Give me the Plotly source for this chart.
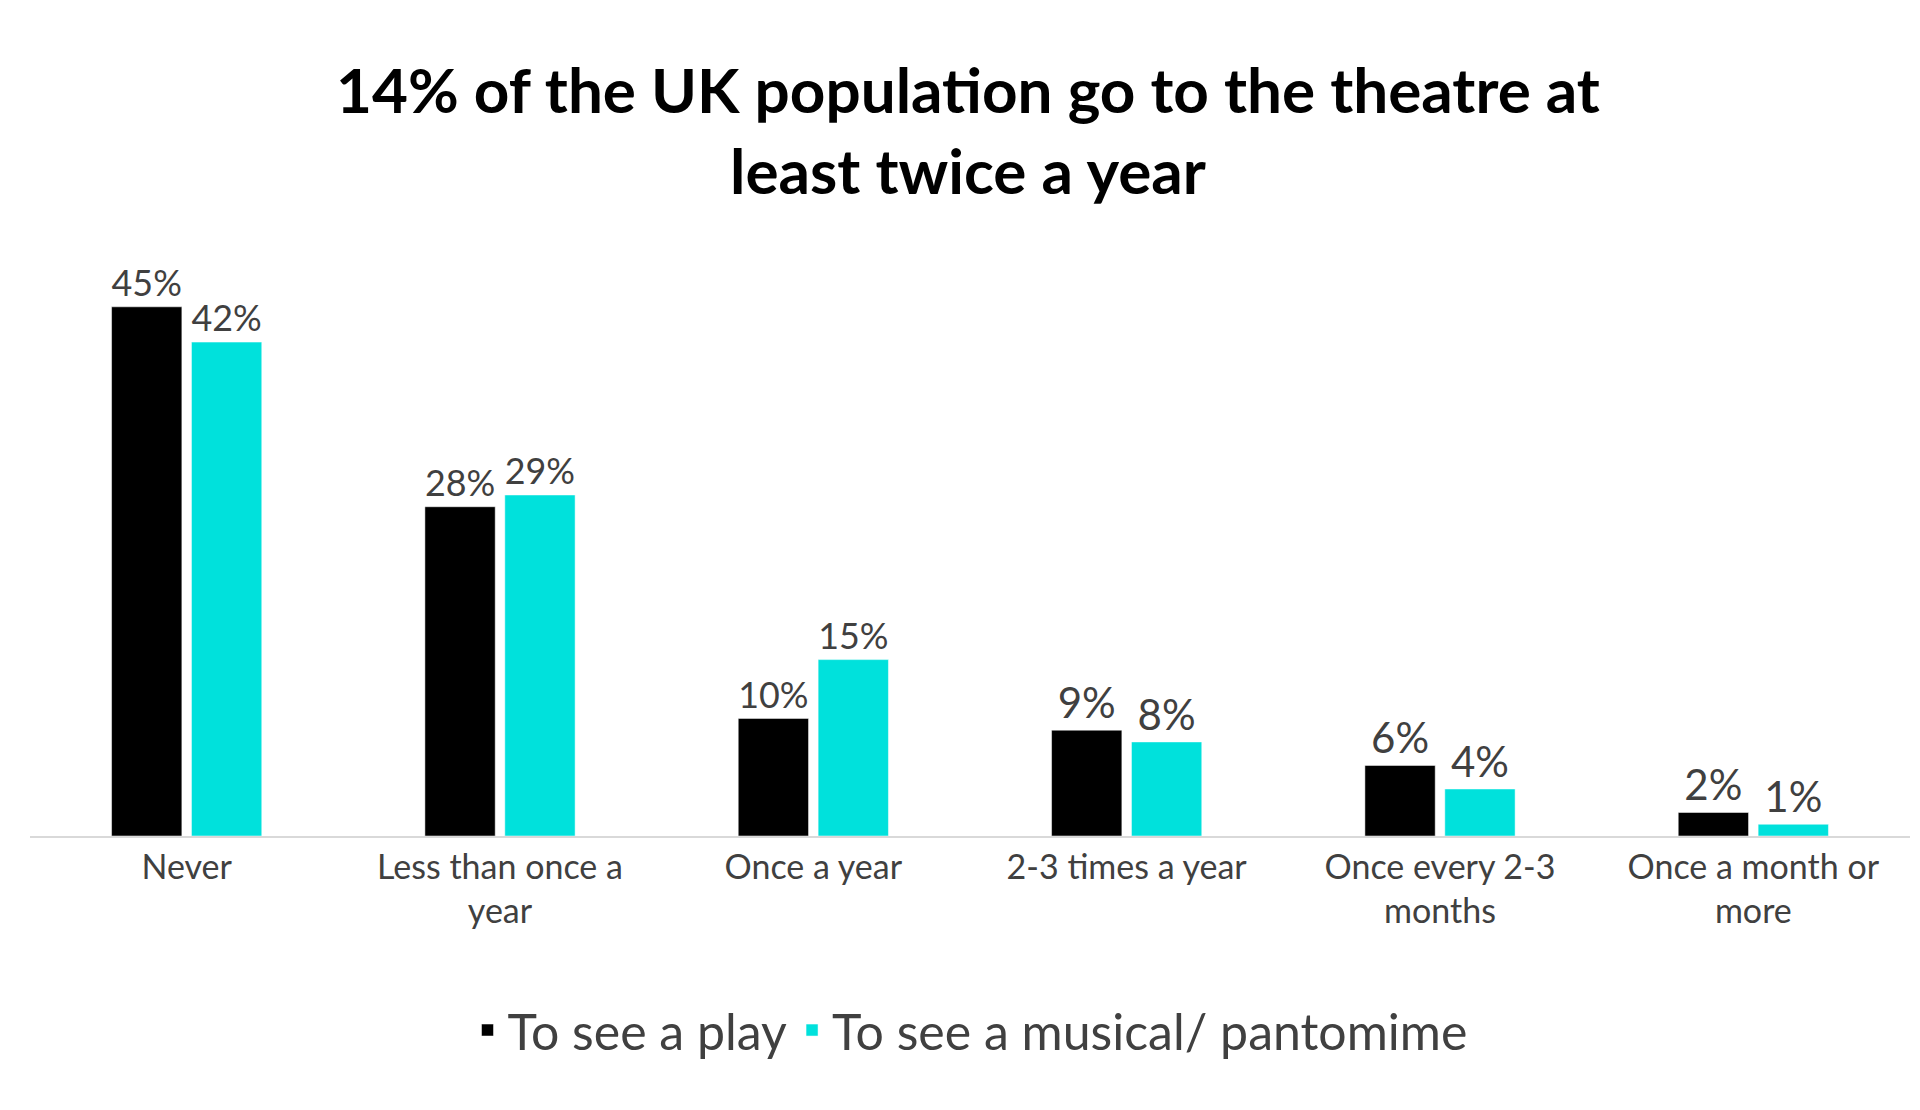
import plotly.graph_objects as go

categories = ["Never", "Less than once a<br>year", "Once a year", "2-3 times a year",
              "Once every 2-3<br>months", "Once a month or<br>more"]
play = [45, 28, 10, 9, 6, 2]
musical = [42, 29, 15, 8, 4, 1]

TEXT = "#404040"
FONT = "Lato, Arial, sans-serif"

fig = go.Figure()
fig.add_trace(go.Bar(
    name="To see a play", x=categories, y=play, marker_color="#000000",
    text=[f"{v}%" for v in play], textposition="outside", cliponaxis=False,
    textfont={"size": 42, "color": TEXT},
))
fig.add_trace(go.Bar(
    name="To see a musical/ pantomime", x=categories, y=musical, marker_color="#00E1DC",
    text=[f"{v}%" for v in musical], textposition="outside", cliponaxis=False,
    textfont={"size": 42, "color": TEXT},
))

fig.update_layout(
    width=1920, height=1110,
    template="plotly_white",
    barmode="group", bargap=0.49, bargroupgap=0.12,
    font={"family": FONT, "color": TEXT},
    title={"text": "<b>14% of the UK population go to the theatre at<br>least twice a year</b>",
           "x": 0.5, "xanchor": "center", "y": 0.905, "yanchor": "middle",
           "font": {"size": 62, "color": "#000000"}},
    margin={"l": 22, "r": 18, "t": 240, "b": 282},
    showlegend=True,
    legend={"orientation": "h", "x": 0.5, "xanchor": "center", "y": -0.33, "yanchor": "middle",
            "font": {"size": 50, "color": TEXT}, "itemwidth": 30},
    plot_bgcolor="white", paper_bgcolor="white",
)
fig.update_xaxes(showline=True, linecolor="#d9d9d9", linewidth=2, showgrid=False,
                 tickfont={"size": 34, "color": TEXT}, ticks="")
fig.update_yaxes(visible=False, range=[0, 50], showgrid=False)

fig.write_html("out.html")
